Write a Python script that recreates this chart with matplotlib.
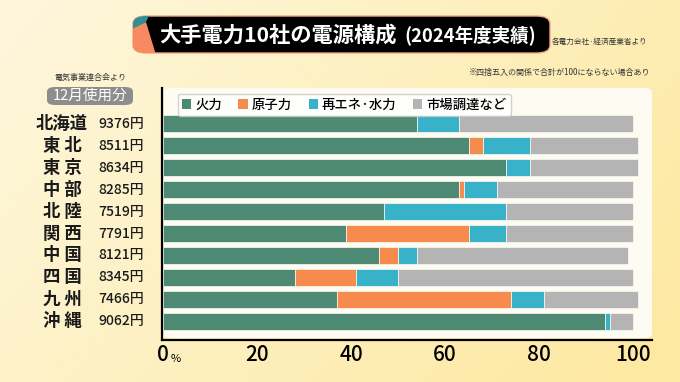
import numpy as np
import matplotlib
matplotlib.use('Agg')
import matplotlib.pyplot as plt
from matplotlib.patches import FancyBboxPatch, Polygon, Patch
from matplotlib.transforms import blended_transform_factory

plt.rcParams['font.family'] = ['Noto Sans CJK JP', 'DejaVu Sans']

# data (%)
companies = ['北海道', '東 北', '東 京', '中 部', '北 陸', '関 西', '中 国', '四 国', '九 州', '沖 縄']
prices = ['9376円', '8511円', '8634円', '8285円', '7519円', '7791円', '8121円', '8345円', '7466円', '9062円']
thermal = [54, 65, 73, 63, 47, 39, 46, 28, 37, 94]
nuclear = [0, 3, 0, 1, 0, 26, 4, 13, 37, 0]
renew = [9, 10, 5, 7, 26, 8, 4, 9, 7, 1]
market = [37, 23, 23, 29, 27, 27, 45, 50, 20, 5]
series_names = ['火力', '原子力', '再エネ·水力', '市場調達など']
colors = ['#4e8a73', '#f68b4d', '#37b2c8', '#b4b4b4']

W, H = 680, 382
fig = plt.figure(figsize=(6.8, 3.82), dpi=100)


def fx(x):
    return x / W


def fy(y):
    return 1 - y / H


# background gradient
bg = fig.add_axes([0, 0, 1, 1])
bg.set_zorder(-5)
bg.set_axis_off()
gx, gy = np.meshgrid(np.linspace(0, 1, 200), np.linspace(0, 1, 120))
t = np.clip(0.75 * gx + 0.35 * gy - 0.05, 0, 1)[..., None]
c1 = np.array([253, 246, 218]) / 255
c2 = np.array([253, 233, 162]) / 255
bg.imshow(c1 * (1 - t) + c2 * t, aspect='auto', extent=[0, 1, 0, 1])
bg.set_xlim(0, 1)
bg.set_ylim(0, 1)

# panel behind the bars
panel = FancyBboxPatch((fx(164), fy(338)), fx(652 - 164), (338 - 88) / H,
                       boxstyle='round,pad=0,rounding_size=0.012',
                       transform=fig.transFigure, facecolor='#fdfbf2',
                       edgecolor='none', zorder=-1)
fig.patches.append(panel)

# main axes
ax = fig.add_axes([fx(162), fy(340), fx(652 - 162), (340 - 88) / H])
ax.set_facecolor('none')
ax.set_xlim(-0.2, 104.0)
ax.set_ylim(9.86, -1.64)

y = np.arange(len(companies))
left = np.zeros(len(companies))
for vals, col in zip([thermal, nuclear, renew, market], colors):
    ax.barh(y, vals, left=left, height=0.78, color=col,
            edgecolor='#fdfbf2', linewidth=0.5)
    left = left + np.array(vals)

for s in ['top', 'right']:
    ax.spines[s].set_visible(False)
ax.spines['left'].set_linewidth(1.6)
ax.spines['bottom'].set_linewidth(1.6)
ax.set_yticks([])
ax.set_xticks([0, 20, 40, 60, 80, 100])
ax.set_xticklabels(['0', '20', '40', '60', '80', '100'],
                   fontsize=15, fontweight='medium')
ax.tick_params(axis='x', length=0, pad=3)
fig.text(fx(171), fy(362), '%', fontsize=8, ha='left', va='baseline')

# legend
handles = [Patch(facecolor=c, edgecolor='none') for c in colors]
leg = ax.legend(handles, series_names, loc='upper left', ncol=4,
                bbox_to_anchor=(fx(171), fy(87)), bbox_transform=fig.transFigure,
                prop={'size': 9.6, 'weight': 'medium'},
                handlelength=0.7, handleheight=0.7,
                handletextpad=0.3, columnspacing=1.25, borderpad=0.3,
                frameon=True, fancybox=True, edgecolor='#c8c8c8')
leg.get_frame().set_facecolor('white')
leg.get_frame().set_linewidth(1.0)

# row labels
tr = blended_transform_factory(fig.transFigure, ax.transData)
for i, (name, price) in enumerate(zip(companies, prices)):
    ax.text(fx(62), i, name, transform=tr, ha='center', va='center',
            fontsize=12.5, fontweight='bold', color='#1a1a1a', clip_on=False)
    ax.text(fx(98), i, price, transform=tr, ha='left', va='center',
            fontsize=10, fontweight='medium', color='#1a1a1a', clip_on=False)

# left notes
fig.text(fx(90), fy(77), '電気事業連合会より', fontsize=5.8, ha='center', va='center', color='#333333')
box = FancyBboxPatch((fx(47), fy(105)), fx(133 - 47), 18 / H,
                     boxstyle='round,pad=0,rounding_size=0.012',
                     transform=fig.transFigure, facecolor='#8d8d8d', edgecolor='none')
fig.patches.append(box)
fig.text(fx(90), fy(96), '12月使用分', fontsize=10.5, ha='center', va='center', color='white')

# title
tbox = FancyBboxPatch((fx(133), fy(53)), fx(550 - 133), 37 / H,
                      boxstyle='round,pad=0,rounding_size=0.02',
                      transform=fig.transFigure, facecolor='black',
                      edgecolor='#f3a57f', linewidth=1.0)
fig.patches.append(tbox)
orange = Polygon([(fx(128), fy(30)), (fx(146), fy(22)), (fx(156), fy(55)), (fx(128), fy(55))],
                 closed=True, transform=fig.transFigure, facecolor='#f78a60', edgecolor='none')
fig.patches.append(orange)
orange.set_clip_path(tbox)
teal = Polygon([(fx(128), fy(14)), (fx(150), fy(14)), (fx(146), fy(22)), (fx(128), fy(31))],
               closed=True, transform=fig.transFigure, facecolor='#2f8f95', edgecolor='none')
fig.patches.append(teal)
teal.set_clip_path(tbox)
fig.text(fx(159), fy(35), '大手電力10社の電源構成', fontsize=15.3, fontweight='bold',
         color='white', ha='left', va='center')
fig.text(fx(404), fy(35), '(2024年度実績)', fontsize=13.3, fontweight='bold',
         color='white', ha='left', va='center')
fig.text(fx(552), fy(42), '各電力会社·経済産業省より', fontsize=5.5, ha='left', va='center', color='#333333')
fig.text(fx(650), fy(72), '※四捨五入の関係で合計が100にならない場合あり', fontsize=5.8,
         ha='right', va='center', color='#333333')

fig.savefig('out.png', dpi=100)
